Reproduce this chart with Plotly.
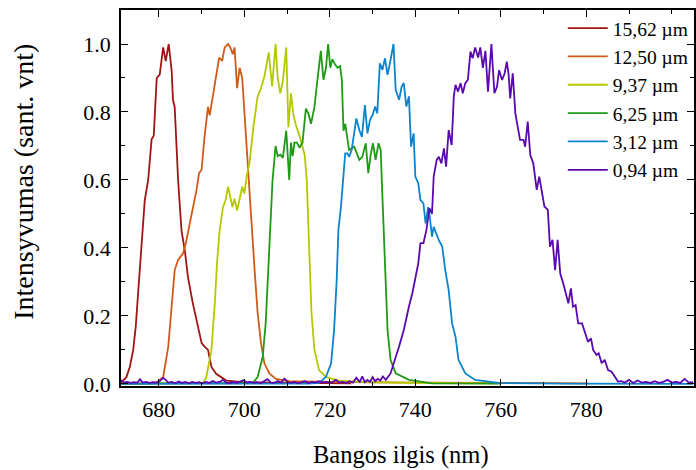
import plotly.graph_objects as go

# ---- data (wavelength nm, normalised intensity) ----
labels = ["15,62 µm", "12,50 µm", "9,37 µm", "6,25 µm", "3,12 µm", "0,94 µm"]
colors = ["#a01414", "#d05a18", "#b4c800", "#1e9a14", "#0a84cc", "#5a08b0"]

wl_1562 = [671.0, 671.5, 672.4, 673.2, 674.0, 674.6, 675.1, 675.6, 676.3, 676.7, 677.5, 678.3, 678.8,
           679.5, 680.2, 681.0, 681.6, 682.3, 683.0, 683.3, 683.7, 684.5, 685.3, 686.1, 686.8, 687.9,
           688.8, 690.0, 690.7, 691.5, 692.3, 693.4, 695.8, 699.7, 710.0, 725.0]
int_1562 = [0.005, 0.008, 0.02, 0.05, 0.1, 0.17, 0.26, 0.36, 0.47, 0.54, 0.6, 0.72, 0.73,
            0.9, 0.91, 0.99, 0.95, 1.0, 0.92, 0.835, 0.815, 0.6, 0.45, 0.39, 0.315, 0.24,
            0.19, 0.12, 0.11, 0.1, 0.05, 0.03, 0.01, 0.005, 0.003, 0.002]

wl_1250 = [671.0, 678.0, 679.5, 681.0, 682.2, 683.0, 683.7, 684.5, 685.7, 686.4, 687.2, 688.0, 688.8,
           689.4, 690.0, 690.7, 691.5, 691.9, 692.7, 693.4, 694.1, 694.8, 695.4, 696.2, 696.7, 697.3,
           697.7, 698.3, 698.9, 699.5, 700.3, 700.8, 701.6, 702.4, 703.1, 703.9, 704.7, 705.9, 707.4,
           710.5, 720.0, 740.0, 760.0, 780.0]
int_1250 = [0.0, 0.002, 0.005, 0.02, 0.11, 0.22, 0.335, 0.365, 0.385, 0.42, 0.47, 0.51, 0.57,
            0.62, 0.63, 0.73, 0.815, 0.79, 0.855, 0.905, 0.96, 0.95, 0.99, 1.0, 0.99, 0.97,
            0.99, 0.87, 0.93, 0.9, 0.73, 0.65, 0.49, 0.335, 0.21, 0.12, 0.06, 0.03, 0.015,
            0.008, 0.006, 0.004, 0.003, 0.002]

wl_937 = [671.0, 685.0, 690.3, 691.1, 692.3, 693.1, 693.6, 694.2, 695.0, 695.6, 696.2, 696.7, 697.2,
          697.7, 698.3, 699.0, 699.5, 700.0, 700.6, 701.2, 702.1, 703.1, 703.9, 704.7, 705.7, 706.5,
          707.3, 707.8, 708.4, 709.0, 709.8, 710.3, 710.5, 710.9, 711.5, 712.1, 712.9, 713.6, 714.1,
          714.6, 715.2, 715.7, 716.4, 717.5, 719.2, 722.2, 728.5, 740.0, 760.0]
int_937 = [0.001, 0.001, 0.003, 0.02, 0.1, 0.24, 0.355, 0.45, 0.52, 0.54, 0.58, 0.55, 0.52,
           0.545, 0.51, 0.55, 0.58, 0.56, 0.615, 0.65, 0.755, 0.845, 0.87, 0.905, 0.975, 0.875,
           1.0, 0.9, 0.855, 0.89, 0.99, 0.755, 0.8, 0.855, 0.79, 0.76, 0.73, 0.7, 0.675,
           0.6, 0.355, 0.21, 0.1, 0.04, 0.02, 0.01, 0.005, 0.003, 0.002]

wl_625 = [671.0, 690.0, 702.0, 703.1, 704.3, 705.0, 705.7, 706.2, 706.6, 707.3, 707.8, 708.4, 709.0,
          709.8, 710.5, 710.9, 711.3, 711.7, 712.3, 712.9, 713.6, 714.4, 715.0, 715.6, 716.4, 717.1,
          717.9, 718.5, 719.1, 719.6, 720.1, 720.6, 721.2, 721.8, 722.4, 722.8, 723.2, 723.6, 724.0,
          724.5, 725.7, 726.9, 727.6, 728.4, 729.0, 729.6, 730.1, 730.7, 731.4, 731.9, 732.3, 732.9,
          733.5, 734.2, 735.4, 738.5, 743.9, 760.0]
int_625 = [0.001, 0.002, 0.003, 0.02, 0.08, 0.18, 0.355, 0.49, 0.6, 0.7, 0.67, 0.675, 0.665,
           0.745, 0.6, 0.71, 0.67, 0.71, 0.71, 0.695, 0.71, 0.81, 0.795, 0.765, 0.815, 0.895,
           0.98, 0.895, 0.93, 1.0, 0.93, 0.955, 0.94, 0.93, 0.935, 0.895, 0.745, 0.765, 0.73,
           0.688, 0.698, 0.659, 0.668, 0.708, 0.62, 0.678, 0.708, 0.659, 0.708, 0.688, 0.551, 0.355,
           0.159, 0.071, 0.031, 0.012, 0.002, 0.001]

wl_312 = [671.0, 700.0, 715.0, 717.5, 719.1, 720.3, 721.0, 721.6, 722.0, 722.6, 723.1, 723.6, 724.1,
          724.5, 725.1, 725.7, 726.2, 726.9, 727.5, 728.2, 728.8, 729.4, 730.0, 730.6, 731.1, 731.7,
          732.3, 732.9, 733.5, 734.2, 734.9, 735.4, 736.2, 736.8, 737.3, 737.9, 738.5, 739.0, 739.6,
          740.0, 740.7, 741.2, 741.9, 742.4, 743.0, 743.4, 743.9, 744.3, 744.9, 745.5, 746.3, 747.0,
          747.8, 748.6, 749.4, 750.1, 751.7, 754.0, 759.5, 775.0, 805.0]
int_312 = [0.0, 0.0, 0.001, 0.003, 0.021, 0.061, 0.159, 0.306, 0.453, 0.521, 0.6, 0.678, 0.678,
           0.668, 0.688, 0.737, 0.781, 0.747, 0.727, 0.82, 0.737, 0.777, 0.791, 0.816, 0.796, 0.943,
           0.924, 0.958, 0.909, 0.953, 1.0, 0.865, 0.836, 0.875, 0.885, 0.816, 0.846, 0.698, 0.737,
           0.61, 0.59, 0.541, 0.531, 0.472, 0.52, 0.49, 0.433, 0.462, 0.443, 0.423, 0.404, 0.335,
           0.276, 0.178, 0.139, 0.071, 0.031, 0.012, 0.003, 0.001, 0.0]

wl_094 = [671.0, 671.8, 672.6, 673.4, 674.2, 675.0, 675.6, 676.2, 677.0, 677.8, 678.6, 679.4, 680.2,
          681.0, 681.6, 682.2, 683.0, 683.8, 684.6, 685.4, 686.2, 687.0, 687.8, 688.6, 689.4, 690.2,
          691.0, 691.8, 692.6, 693.4, 694.2, 695.0, 695.8, 696.6, 697.4, 698.2, 699.0, 699.8, 700.6,
          701.4, 702.2, 703.0, 703.8, 704.6, 705.4, 706.2, 707.0, 707.8, 708.6, 709.4, 710.2, 711.0,
          711.8, 712.6, 713.4, 714.2, 715.0, 715.8, 716.6, 717.4, 718.2, 719.0, 719.8, 720.6, 721.4,
          722.2, 723.0, 723.8, 724.6, 725.4, 726.2, 727.0, 727.6, 728.2, 728.8, 729.4, 730.0, 730.6,
          731.2, 731.8, 732.4, 733.1, 734.2, 735.0, 736.2, 737.3, 737.9, 738.5, 739.3, 740.0, 740.7,
          741.2, 741.9, 742.6, 743.3, 743.9, 744.3, 745.0, 745.5, 746.1, 746.7, 747.2, 747.8, 748.5,
          749.0, 749.4, 750.0, 750.6, 751.1, 751.7, 752.3, 752.9, 753.4, 754.0, 754.7, 755.2, 755.8,
          756.4, 757.0, 757.8, 758.5, 759.1, 759.6, 760.3, 760.9, 761.4, 761.8, 762.2, 762.8, 763.4,
          764.0, 764.5, 765.3, 765.7, 766.3, 766.9, 767.6, 768.4, 769.0, 769.6, 770.2, 771.0, 771.5,
          772.1, 772.7, 773.3, 773.9, 774.6, 775.2, 775.8, 776.4, 776.9, 777.5, 778.1, 779.0, 779.7,
          780.4, 781.1, 781.6, 782.4, 782.9, 783.6, 784.3, 785.1, 785.9, 786.7, 787.4, 788.2, 789.0,
          790.0, 791.0, 792.0, 793.0, 794.0, 795.0, 796.0, 797.0, 798.0, 799.0, 800.0, 801.0, 802.0,
          803.0, 804.0, 805.0]
int_094 = [0.012, 0.004, 0.006, 0.003, 0.005, 0.004, 0.014, 0.004, 0.006, 0.003, 0.005, 0.004, 0.008,
           0.018, 0.012, 0.004, 0.006, 0.002, 0.007, 0.003, 0.006, 0.002, 0.006, 0.003, 0.005, 0.002,
           0.006, 0.003, 0.009, 0.004, 0.006, 0.012, 0.004, 0.002, 0.006, 0.003, 0.007, 0.011, 0.004,
           0.006, 0.003, 0.005, 0.002, 0.008, 0.014, 0.004, 0.003, 0.009, 0.004, 0.016, 0.005, 0.003,
           0.006, 0.002, 0.004, 0.008, 0.003, 0.006, 0.004, 0.008, 0.004, 0.006, 0.003, 0.005, 0.012,
           0.004, 0.006, 0.003, 0.008, 0.004, 0.018, 0.006, 0.022, 0.005, 0.012, 0.006, 0.02, 0.008,
           0.015, 0.01, 0.022, 0.012, 0.031, 0.061, 0.11, 0.159, 0.198, 0.227, 0.267, 0.316, 0.355,
           0.414, 0.414, 0.453, 0.517, 0.5, 0.61, 0.659, 0.668, 0.649, 0.693, 0.639, 0.747, 0.703,
           0.846, 0.88, 0.86, 0.885, 0.855, 0.885, 0.895, 0.978, 0.958, 0.99, 0.96, 0.99, 0.93,
           0.98, 0.86, 1.0, 0.855, 0.874, 0.923, 0.894, 0.914, 0.948, 0.914, 0.84, 0.914, 0.796,
           0.747, 0.718, 0.718, 0.698, 0.772, 0.673, 0.649, 0.571, 0.61, 0.561, 0.522, 0.512, 0.404,
           0.424, 0.335, 0.424, 0.325, 0.296, 0.267, 0.237, 0.281, 0.227, 0.232, 0.178, 0.178, 0.149,
           0.124, 0.134, 0.1, 0.085, 0.09, 0.061, 0.071, 0.041, 0.036, 0.021, 0.007, 0.008, 0.004,
           0.012, 0.003, 0.01, 0.004, 0.006, 0.003, 0.008, 0.003, 0.006, 0.012, 0.004, 0.006, 0.003,
           0.015, 0.004, 0.005]

series_x = [wl_1562, wl_1250, wl_937, wl_625, wl_312, wl_094]
series_y = [int_1562, int_1250, int_937, int_625, int_312, int_094]

x_ticks = [680, 700, 720, 740, 760, 780]
y_ticks = [0.0, 0.2, 0.4, 0.6, 0.8, 1.0]

FONT = "Liberation Serif"

fig = go.Figure()
for name, col, xs, ys in zip(labels, colors, series_x, series_y):
    fig.add_trace(go.Scatter(x=xs, y=ys, mode="lines", name=name,
                             line=dict(color=col, width=1.8)))

fig.update_layout(
    width=696, height=470,
    margin=dict(l=121, r=0, t=10, b=84),
    paper_bgcolor="white", plot_bgcolor="white",
    font=dict(family=FONT, color="black", size=22),
    showlegend=True,
    legend=dict(x=0.771, y=1.003, xanchor="left", yanchor="top",
                bgcolor="rgba(0,0,0,0)", font=dict(family=FONT, size=19.5),
                itemwidth=40, tracegroupgap=0),
    annotations=[
        dict(text="Intensyvumas (sant. vnt)", xref="paper", yref="paper",
             x=-0.17, y=0.542, textangle=-90, showarrow=False,
             font=dict(family=FONT, size=28), xanchor="center", yanchor="middle"),
        dict(text="Bangos ilgis (nm)", xref="paper", yref="paper",
             x=0.489, y=-0.1835, showarrow=False,
             font=dict(family=FONT, size=24.5), xanchor="center", yanchor="middle"),
    ],
)

fig.update_xaxes(range=[671.14, 805.2], tickvals=x_ticks, ticktext=[str(v) for v in x_ticks],
                 showgrid=False, zeroline=False, showline=True, linecolor="black", linewidth=1.5,
                 mirror="ticks", ticks="inside", ticklen=7, tickwidth=1.2, tickcolor="black",
                 minor=dict(dtick=10, ticks="inside", ticklen=4, tickwidth=1, tickcolor="black"),
                 tickfont=dict(family=FONT, size=22), ticklabelstandoff=3)
fig.update_yaxes(range=[-0.006, 1.1], tickvals=y_ticks, ticktext=[f"{v:.1f}" for v in y_ticks],
                 showgrid=False, zeroline=False, showline=True, linecolor="black", linewidth=1.5,
                 mirror="ticks", ticks="inside", ticklen=7, tickwidth=1.2, tickcolor="black",
                 minor=dict(dtick=0.1, ticks="inside", ticklen=4, tickwidth=1, tickcolor="black"),
                 tickfont=dict(family=FONT, size=22), ticklabelstandoff=4)

fig.write_html("out.html")
